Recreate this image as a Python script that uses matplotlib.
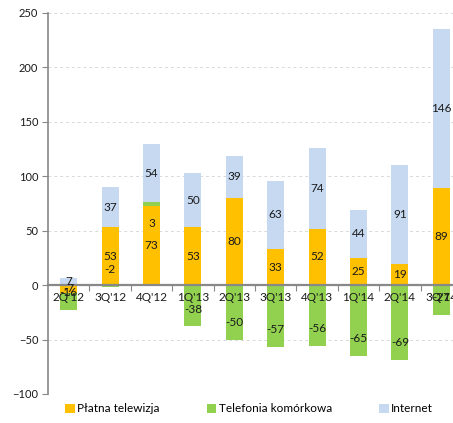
import numpy as np
import matplotlib
matplotlib.use("Agg")
import matplotlib.pyplot as plt
from matplotlib.patches import Patch

quarters = ["2Q'12", "3Q'12", "4Q'12", "1Q'13", "2Q'13", "3Q'13", "4Q'13", "1Q'14", "2Q'14", "3Q'14"]
tv = [-7, 53, 73, 53, 80, 33, 52, 25, 19, 89]
mobile = [-16, -2, 3, -38, -50, -57, -56, -65, -69, -27]
internet = [7, 37, 54, 50, 39, 63, 74, 44, 91, 146]

names = ["Płatna telewizja", "Telefonia komórkowa", "Internet"]
colors = ["#FFC000", "#92D050", "#C6D9F1"]

plt.rcParams['font.family'] = ['Lato', 'DejaVu Sans']

fig = plt.figure(figsize=(4.53, 4.23), dpi=100)
ax = fig.add_axes([0.106, 0.0686, 0.914, 0.9007])

x = np.arange(len(quarters))
w = 0.41

# stack positives upward and negatives downward, like the spreadsheet does
pos_base = np.zeros(len(x))
neg_base = np.zeros(len(x))
for vals, col, name in zip([tv, mobile, internet], colors, names):
    vals = np.array(vals, dtype=float)
    bottoms = np.where(vals >= 0, pos_base, neg_base)
    ax.bar(x, vals, w, bottom=bottoms, color=col, zorder=2)
    for i, v in enumerate(vals):
        if name == "Telefonia komórkowa":
            end = bottoms[i] + v
            ypos = end + 16 if v < 0 else end - 19
        else:
            ypos = bottoms[i] + v / 2
        ax.text(x[i], ypos, "%d" % v, ha='center', va='center', fontsize=8.5,
                color='#1a1a1a', zorder=4)
    pos_base += np.where(vals >= 0, vals, 0)
    neg_base += np.where(vals < 0, vals, 0)

ax.set_xlim(-0.5, 9.5)
ax.set_ylim(-100, 250)
ax.set_yticks(np.arange(-100, 251, 50))
ax.yaxis.grid(True, linestyle=(0, (3, 3)), color='#d9d9d9', linewidth=0.7, zorder=0)
ax.tick_params(axis='y', length=4, color='#888888', labelsize=8, pad=3, labelcolor='#1a1a1a')

ax.spines['top'].set_visible(False)
ax.spines['right'].set_visible(False)
ax.spines['left'].set_color('#888888')
ax.spines['left'].set_linewidth(1.2)
ax.spines['bottom'].set_position(('data', 0))
ax.spines['bottom'].set_color('#888888')
ax.spines['bottom'].set_linewidth(1.6)
ax.spines['bottom'].set_zorder(3)

ax.set_xticks(x[:-1] + 0.5)
ax.set_xticklabels([])
ax.tick_params(axis='x', which='major', length=4, color='#888888', direction='out')

# category names sit just under the zero line, over the bars
for xi, q in zip(x, quarters):
    ax.annotate(q, (xi, 0), xytext=(0, -5), textcoords='offset points',
                ha='center', va='top', fontsize=8.5, color='#1a1a1a',
                zorder=5, annotation_clip=False)

handles = [Patch(facecolor=c, edgecolor='none') for c in colors]
fig.legend(handles, names, loc='lower center', bbox_to_anchor=(0.55, -0.005), ncol=3,
           frameon=False, fontsize=8.5, handlelength=0.8, handleheight=0.8,
           handletextpad=0.2, columnspacing=4.0)

fig.savefig("out.png", dpi=100)
